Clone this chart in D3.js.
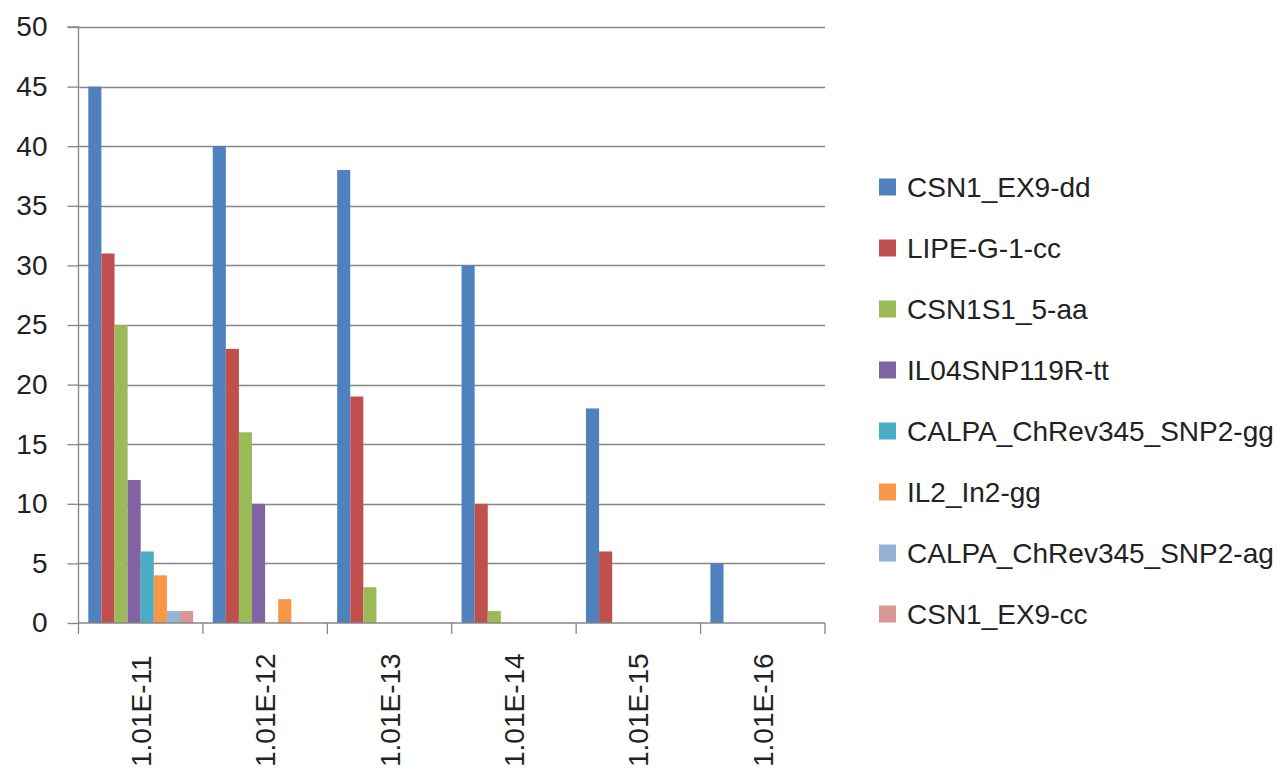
<!DOCTYPE html>
<html>
<head>
<meta charset="utf-8">
<script src="https://cdn.jsdelivr.net/npm/d3@7"></script>
<style>
  html, body { margin: 0; padding: 0; background: #ffffff; }
  svg { display: block; }
</style>
</head>
<body>
<div id="chart"></div>
<script>
const categories = ["1.01E-11", "1.01E-12", "1.01E-13", "1.01E-14", "1.01E-15", "1.01E-16"];
const seriesNames = ["CSN1_EX9-dd", "LIPE-G-1-cc", "CSN1S1_5-aa", "IL04SNP119R-tt",
  "CALPA_ChRev345_SNP2-gg", "IL2_In2-gg", "CALPA_ChRev345_SNP2-ag", "CSN1_EX9-cc"];
const CSN1_EX9_dd = [45, 40, 38, 30, 18, 5];
const LIPE_G_1_cc = [31, 23, 19, 10, 6, 0];
const CSN1S1_5_aa = [25, 16, 3, 1, 0, 0];
const IL04SNP119R_tt = [12, 10, 0, 0, 0, 0];
const CALPA_gg = [6, 0, 0, 0, 0, 0];
const IL2_In2_gg = [4, 2, 0, 0, 0, 0];
const CALPA_ag = [1, 0, 0, 0, 0, 0];
const CSN1_EX9_cc = [1, 0, 0, 0, 0, 0];
const seriesValues = [CSN1_EX9_dd, LIPE_G_1_cc, CSN1S1_5_aa, IL04SNP119R_tt,
  CALPA_gg, IL2_In2_gg, CALPA_ag, CSN1_EX9_cc];
const colors = ["#4F81BD", "#C0504D", "#9BBB59", "#8064A2", "#4BACC6", "#F79646", "#95B3D7", "#D99694"];
const yTicks = [0, 5, 10, 15, 20, 25, 30, 35, 40, 45, 50];

const W = 1286, H = 774;
const plot = { left: 78.5, right: 825, top: 27, bottom: 623 };

const svg = d3.select("#chart").append("svg").attr("width", W).attr("height", H);

const x0 = d3.scaleBand().domain(categories).range([plot.left, plot.right]).paddingInner(0).paddingOuter(0);
const x1 = d3.scaleBand().domain(seriesNames).range([0, x0.bandwidth()]).paddingInner(0).paddingOuter(0.75);
const y = d3.scaleLinear().domain([0, 50]).range([plot.bottom, plot.top]);

const gridColor = "#868686";

// gridlines
svg.append("g").selectAll("line").data(yTicks.filter(d => d > 0)).join("line")
  .attr("x1", plot.left).attr("x2", plot.right)
  .attr("y1", d => Math.round(y(d)) + 0.5).attr("y2", d => Math.round(y(d)) + 0.5)
  .attr("stroke", gridColor).attr("stroke-width", 1.3);

// bars
const data = [];
categories.forEach((c, i) => {
  seriesNames.forEach((s, j) => {
    data.push({ cat: c, ser: s, val: seriesValues[j][i], color: colors[j] });
  });
});
svg.append("g").selectAll("rect").data(data.filter(d => d.val > 0)).join("rect")
  .attr("x", d => x0(d.cat) + x1(d.ser))
  .attr("width", x1.bandwidth())
  .attr("y", d => y(d.val))
  .attr("height", d => y(0) - y(d.val))
  .attr("fill", d => d.color);

// y axis
const yAxis = d3.axisLeft(y).tickValues(yTicks).tickSize(11).tickPadding(20);
const gy = svg.append("g").attr("transform", `translate(${plot.left},0)`).call(yAxis);
gy.select(".domain").attr("stroke", gridColor).attr("stroke-width", 1.3).attr("d", `M-11,${plot.top}H0V${plot.bottom}`);
gy.selectAll(".tick line").attr("stroke", gridColor).attr("stroke-width", 1.3);
gy.selectAll(".tick text")
  .attr("font-family", "'Liberation Sans', Arial, sans-serif")
  .attr("font-size", 28).attr("fill", "#222");

// x axis
const xAxis = d3.axisBottom(x0).tickSize(0).tickFormat("");
const gx = svg.append("g").attr("transform", `translate(0,${plot.bottom})`).call(xAxis);
gx.select(".domain").attr("stroke", gridColor).attr("stroke-width", 1.3).attr("d", `M${plot.left},0H${plot.right}`);
const boundaries = categories.map(c => x0(c)).concat([plot.right]);
gx.append("g").selectAll("line").data(boundaries).join("line")
  .attr("x1", d => d).attr("x2", d => d).attr("y1", 0).attr("y2", 11)
  .attr("stroke", gridColor).attr("stroke-width", 1.3);
gx.append("g").selectAll("text").data(categories).join("text")
  .attr("transform", d => `translate(${x0(d) + x0.bandwidth() / 2 + 10},${H - 7 - plot.bottom}) rotate(-90)`)
  .attr("text-anchor", "start")
  .attr("font-family", "'Liberation Sans', Arial, sans-serif")
  .attr("font-size", 28).attr("fill", "#222")
  .text(d => d);

// legend
const legend = svg.append("g").attr("transform", "translate(879,187)");
const items = legend.selectAll("g").data(seriesNames).join("g")
  .attr("transform", (d, i) => `translate(0,${i * 61})`);
items.append("rect").attr("x", 0).attr("y", -8.5).attr("width", 17).attr("height", 17)
  .attr("fill", (d, i) => colors[i]);
items.append("text").attr("x", 28).attr("y", 0).attr("dy", "0.35em")
  .attr("font-family", "'Liberation Sans', Arial, sans-serif")
  .attr("font-size", 28).attr("fill", "#222")
  .text(d => d);
</script>
</body>
</html>
